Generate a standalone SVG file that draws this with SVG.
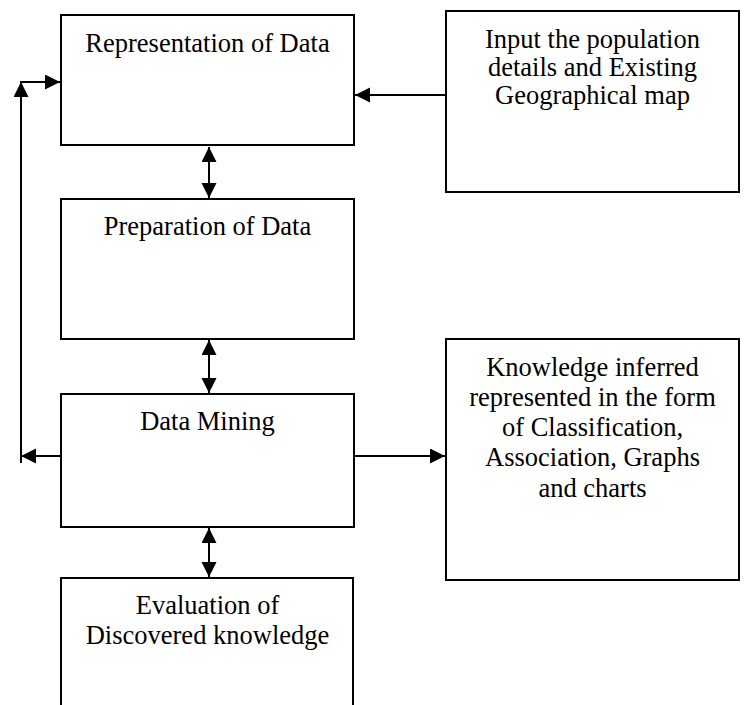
<svg xmlns="http://www.w3.org/2000/svg" width="745" height="705" viewBox="0 0 745 705">
<style>
.box{fill:#fff;stroke:#000;stroke-width:2}
.lbl{font-family:"Liberation Serif","Times New Roman",serif;font-size:26.5px;fill:#000;text-anchor:middle}
.con{fill:none;stroke:#000;stroke-width:2}
</style>
<defs>
<marker id="ah" markerUnits="userSpaceOnUse" markerWidth="16" markerHeight="16" refX="15" refY="7.5" orient="auto-start-reverse" viewBox="0 0 16 16">
<path d="M0,0 L15,7.5 L0,15 Z" fill="#000"/>
</marker>
</defs>
<rect width="745" height="705" fill="#fff"/>
<g id="n-representation">
<rect class="box" x="61" y="15" width="293" height="130"/>
<text class="lbl" x="207.5" y="52">Representation of Data</text>
</g>
<g id="n-input">
<rect class="box" x="446" y="11" width="293" height="181"/>
<text class="lbl" x="592.5" y="48">Input the population</text>
<text class="lbl" x="592.5" y="76">details and Existing</text>
<text class="lbl" x="592.5" y="104">Geographical map</text>
</g>
<g id="n-preparation">
<rect class="box" x="61" y="199" width="293" height="140"/>
<text class="lbl" x="207.5" y="235">Preparation of Data</text>
</g>
<g id="n-mining">
<rect class="box" x="61" y="394" width="293" height="133"/>
<text class="lbl" x="207.5" y="430">Data Mining</text>
</g>
<g id="n-knowledge">
<rect class="box" x="446" y="339" width="293" height="241"/>
<text class="lbl" x="592.5" y="376">Knowledge inferred</text>
<text class="lbl" x="592.5" y="406">represented in the form</text>
<text class="lbl" x="592.5" y="436">of Classification,</text>
<text class="lbl" x="592.5" y="466">Association, Graphs</text>
<text class="lbl" x="592.5" y="497">and charts</text>
</g>
<g id="n-evaluation">
<rect class="box" x="61" y="578" width="292" height="150"/>
<text class="lbl" x="207.5" y="614">Evaluation of</text>
<text class="lbl" x="207.5" y="644">Discovered knowledge</text>
</g>
<g id="connectors">
<line class="con" x1="446" y1="95" x2="355" y2="95" marker-end="url(#ah)"/>
<line class="con" x1="21" y1="463" x2="21" y2="82" marker-end="url(#ah)"/>
<line class="con" x1="20" y1="82" x2="60" y2="82" marker-end="url(#ah)"/>
<line class="con" x1="61" y1="456" x2="21" y2="456" marker-end="url(#ah)"/>
<line class="con" x1="354" y1="456" x2="445" y2="456" marker-end="url(#ah)"/>
<line class="con" x1="209" y1="147" x2="209" y2="198" marker-start="url(#ah)" marker-end="url(#ah)"/>
<line class="con" x1="209" y1="340" x2="209" y2="393" marker-start="url(#ah)" marker-end="url(#ah)"/>
<line class="con" x1="209" y1="528" x2="209" y2="577" marker-start="url(#ah)" marker-end="url(#ah)"/>
</g>
</svg>
